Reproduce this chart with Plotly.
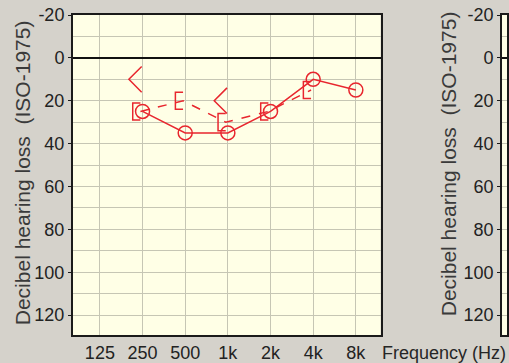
import numpy as np
import plotly.graph_objects as go

# ---- data ----
freq_hz = [125, 250, 500, 1000, 2000, 4000, 8000]
freq_labels = ["125", "250", "500", "1k", "2k", "4k", "8k"]
air_freqs = [250, 500, 1000, 2000, 4000, 8000]
air_right = [25, 35, 35, 25, 10, 15]                 # O  (solid)
bone_masked_freqs = [250, 500, 1000, 2000, 4000]
bone_masked = [25, 20, 30, 25, 15]                   # [  (dashed)
bone_unmasked_freqs = [250, 1000]
bone_unmasked = [10, 20]                             # <
y_ticks = [-20, 0, 20, 40, 60, 80, 100, 120]

RED = "#e8262e"
GRID = "#c6c6b4"
BG = "#d5d2cb"
PLOT_BG = "#ffffe6"
FONT = "Liberation Sans, Arial, sans-serif"

def oct_pos(freqs):
    return np.log2(np.array(freqs, dtype=float) / 125.0)

fig = go.Figure()

# bone conduction masked: dashed line + bracket glyphs
bx = oct_pos(bone_masked_freqs)
fig.add_trace(go.Scatter(x=bx - 0.05, y=bone_masked, mode="lines",
                         line=dict(color=RED, width=1.5, dash="dash"),
                         hoverinfo="skip", showlegend=False))
brx, bry = [], []
for xv, yv in zip(bx, bone_masked):
    brx += [xv - 0.05, xv - 0.23, xv - 0.23, xv - 0.05, None]
    bry += [yv - 4.0, yv - 4.0, yv + 4.0, yv + 4.0, None]
fig.add_trace(go.Scatter(x=brx, y=bry, mode="lines",
                         line=dict(color=RED, width=1.5),
                         hoverinfo="skip", showlegend=False))

# bone conduction unmasked: "<"
ux = oct_pos(bone_unmasked_freqs)
ltx, lty = [], []
for xv, yv in zip(ux, bone_unmasked):
    ltx += [xv - 0.02, xv - 0.32, xv - 0.02, None]
    lty += [yv - 6.0, yv, yv + 6.0, None]
fig.add_trace(go.Scatter(x=ltx, y=lty, mode="lines",
                         line=dict(color=RED, width=1.5),
                         hoverinfo="skip", showlegend=False))

# air conduction right: circles, solid
fig.add_trace(go.Scatter(x=oct_pos(air_freqs), y=air_right, mode="lines+markers",
                         line=dict(color=RED, width=1.5),
                         marker=dict(symbol="circle-open", size=14,
                                     color=RED, line=dict(width=1.5, color=RED)),
                         showlegend=False))

# second (cropped) panel placeholder trace
fig.add_trace(go.Scatter(x=[0], y=[None], xaxis="x2", yaxis="y2",
                         mode="markers", showlegend=False, hoverinfo="skip"))

L, R, T, B, W, H = 73, 0, 15, 28, 509, 363
pw = W - L - R
ph = H - T - B

def px_x(p):
    return (p - L) / pw

def px_y(p):
    return (H - B - p) / ph

axis_font = dict(family=FONT, size=18, color="#222222")

yaxis_common = dict(
    range=[129.3, -20], tickmode="array", tickvals=y_ticks,
    ticktext=[str(v) for v in y_ticks],
    showgrid=True, gridcolor=GRID, gridwidth=1.3,
    minor=dict(tickmode="linear", tick0=0, dtick=10, showgrid=True,
               gridcolor=GRID, gridwidth=1.3),
    zeroline=True, zerolinecolor="#111111", zerolinewidth=2,
    showline=True, linecolor="#1a1a1a", linewidth=2, mirror=True,
    ticks="outside", ticklen=3, tickcolor="#1a1a1a",
    tickfont=axis_font, fixedrange=True,
)

fig.update_layout(
    width=W, height=H,
    margin=dict(l=L, r=R, t=T, b=B, pad=0),
    paper_bgcolor=BG, plot_bgcolor=PLOT_BG,
    font=dict(family=FONT),
    xaxis=dict(
        domain=[0, px_x(382)], range=[-0.63, 6.58],
        tickmode="array", tickvals=list(oct_pos(freq_hz)), ticktext=freq_labels,
        showgrid=True, gridcolor=GRID, gridwidth=1.3, zeroline=False,
        showline=True, linecolor="#1a1a1a", linewidth=2, mirror=True,
        ticks="", tickfont=axis_font, fixedrange=True,
    ),
    yaxis=dict(anchor="x", **yaxis_common),
    xaxis2=dict(
        domain=[px_x(504), 1], range=[0, 1], anchor="y2",
        showgrid=False, zeroline=False, showticklabels=False, ticks="",
        showline=True, linecolor="#1a1a1a", linewidth=2, mirror=True,
        fixedrange=True,
    ),
    yaxis2=dict(anchor="x2", **yaxis_common),
    annotations=[
        dict(text="Decibel hearing loss  (ISO-1975)", textangle=-90,
             xref="paper", yref="paper", x=px_x(22), y=px_y(173),
             xanchor="center", yanchor="middle", showarrow=False,
             font=dict(family=FONT, size=21, color="#3a3a3a")),
        dict(text="Decibel hearing loss  (ISO-1975)", textangle=-90,
             xref="paper", yref="paper", x=px_x(450), y=px_y(164),
             xanchor="center", yanchor="middle", showarrow=False,
             font=dict(family=FONT, size=21, color="#3a3a3a")),
        dict(text="Frequency (Hz)", xref="paper", yref="paper",
             x=px_x(381), y=px_y(353), xanchor="left", yanchor="middle",
             showarrow=False,
             font=dict(family=FONT, size=18, color="#262626")),
    ],
)

fig.write_html(
    "out.html",
    config={"displayModeBar": False},
    post_script="document.body.style.margin='0';document.body.style.overflow='hidden';",
)
